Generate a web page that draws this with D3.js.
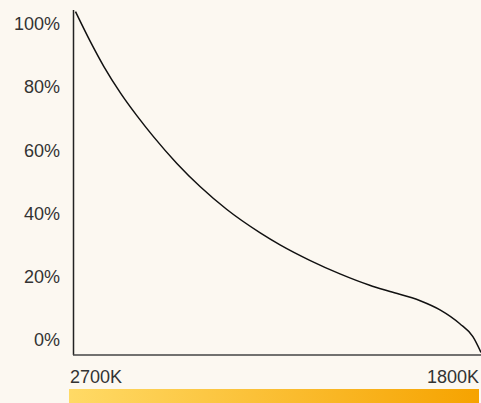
<!DOCTYPE html>
<html>
<head>
<meta charset="utf-8">
<script src="https://cdn.jsdelivr.net/npm/d3@7"></script>
<style>
  body { margin: 0; background: #fcf8f1; }
  svg { display: block; }
  text { font-family: "Liberation Sans", Arial, Helvetica, sans-serif; }
</style>
</head>
<body>
<div id="chart-area"></div>
<script>
let width = 481,
    height = 403;

// colour temperature (K) vs brightness (%)
let kelvin  = [2700, 2667, 2637, 2600, 2563, 2527, 2475, 2423, 2364, 2290, 2246, 2180, 2113, 2047, 2002, 1935, 1891, 1847, 1818, 1800];
let percent = [103.9, 94.4, 86.5, 78.1, 70.8, 64.3, 55.8, 48.4, 41.2, 33.8, 30.0, 25.1, 20.8, 17.2, 15.2, 12.3, 9.4, 5.0, 0.9, -4.1];

let yTicks = [0, 20, 40, 60, 80, 100];
let xLabels = ["2700K", "1800K"];
let gradColors = ["#ffda66", "#f6a300"];

let svg = d3.select("#chart-area").append("svg")
    .attr("width", width)
    .attr("height", height);

let x = d3.scaleLinear()
    .domain([2700, 1800])
    .range([75.5, 481]);

let y = d3.scaleLinear()
    .domain([0, 100])
    .range([339.5, 24]);

// y labels
svg.selectAll(".ylab")
    .data(yTicks)
    .enter()
    .append("text")
    .attr("class", "ylab")
    .attr("x", 60)
    .attr("y", d => y(d))
    .attr("dy", "0.35em")
    .attr("text-anchor", "end")
    .attr("font-size", 18)
    .attr("fill", "#333")
    .text(d => d + "%");

// axes lines
svg.append("line")
    .attr("x1", 73.5).attr("x2", 73.5)
    .attr("y1", 10).attr("y2", 355)
    .attr("stroke", "#222").attr("stroke-width", 1.5);

svg.append("line")
    .attr("x1", 73).attr("x2", width)
    .attr("y1", 355).attr("y2", 355)
    .attr("stroke", "#444").attr("stroke-width", 1.5);

// curve
let line = d3.line()
    .x((d, i) => x(kelvin[i]))
    .y(d => y(d))
    .curve(d3.curveMonotoneX);

svg.append("path")
    .datum(percent)
    .attr("d", line)
    .attr("fill", "none")
    .attr("stroke", "#111")
    .attr("stroke-width", 1.5);

// x labels
svg.append("text")
    .attr("x", 70).attr("y", 377)
    .attr("dy", "0.35em")
    .attr("font-size", 18).attr("fill", "#333")
    .text(xLabels[0]);

svg.append("text")
    .attr("x", 479).attr("y", 377)
    .attr("dy", "0.35em")
    .attr("text-anchor", "end")
    .attr("font-size", 18).attr("fill", "#333")
    .text(xLabels[1]);

// colour bar
let grad = svg.append("defs").append("linearGradient")
    .attr("id", "temp-grad");
grad.selectAll("stop")
    .data(gradColors)
    .enter()
    .append("stop")
    .attr("offset", (d, i) => i * 100 + "%")
    .attr("stop-color", d => d);

svg.append("rect")
    .attr("x", 69).attr("y", 389)
    .attr("width", 410).attr("height", 14)
    .attr("fill", "url(#temp-grad)");
</script>
</body>
</html>
